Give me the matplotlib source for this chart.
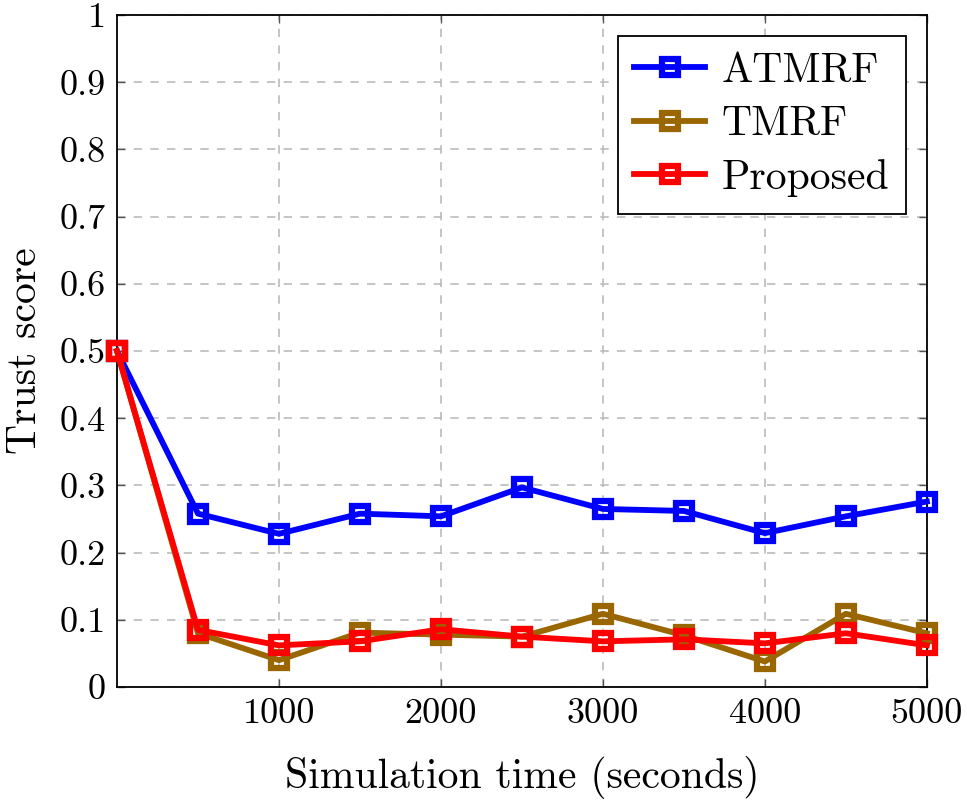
import matplotlib
matplotlib.use("Agg")
import matplotlib.pyplot as plt
from matplotlib.ticker import FuncFormatter

plt.rcParams['font.family'] = 'serif'
plt.rcParams['font.serif'] = ['cmr10', 'DejaVu Serif']
plt.rcParams['axes.formatter.use_mathtext'] = True
plt.rcParams['mathtext.fontset'] = 'cm'

time = [0, 500, 1000, 1500, 2000, 2500, 3000, 3500, 4000, 4500, 5000]
atmrf = [0.5, 0.258, 0.228, 0.258, 0.254, 0.297, 0.265, 0.262, 0.229, 0.254, 0.276]
tmrf = [0.5, 0.080, 0.040, 0.081, 0.078, 0.075, 0.109, 0.077, 0.038, 0.109, 0.080]
proposed = [0.5, 0.085, 0.062, 0.068, 0.086, 0.075, 0.068, 0.071, 0.065, 0.080, 0.062]

series = [("ATMRF", atmrf, "#0000ff"), ("TMRF", tmrf, "#996600"), ("Proposed", proposed, "#ff0000")]

fig = plt.figure(figsize=(9.67, 8.06), dpi=100)
ax = fig.add_axes([0.121, 0.1476, 0.8375, 0.8338])

for name, vals, col in series:
    ax.plot(time, vals, color=col, lw=4.2, marker='s', ms=12, mew=4.5,
            mfc='none', mec=col, label=name, clip_on=False, zorder=3)

ax.set_xlim(0, 5000)
ax.set_ylim(0, 1)
ax.set_xticks([1000, 2000, 3000, 4000, 5000])
ax.set_yticks([i / 10 for i in range(11)])
ax.yaxis.set_major_formatter(FuncFormatter(lambda v, p: "0" if v == 0 else ("1" if v == 1 else f"{v:.1f}")))
ax.xaxis.set_major_formatter(FuncFormatter(lambda v, p: f"{int(v)}"))
ax.tick_params(direction='in', top=True, right=True, length=6, width=1, labelsize=26, pad=8, colors='#555555', labelcolor='black')
ax.grid(True, color='#bbbbbb', ls=(0, (5, 5)), lw=1.2)
for s in ax.spines.values():
    s.set_linewidth(1.3)

ax.set_xlabel("Simulation time (seconds)", fontsize=30, labelpad=19)
ax.set_ylabel("Trust score", fontsize=30, labelpad=11)

leg = ax.legend(loc='upper right', fontsize=30, frameon=True, fancybox=False,
                edgecolor='black', framealpha=1, borderaxespad=0.5,
                handlelength=1.7, handletextpad=0.4, borderpad=0.4, labelspacing=0.38)
leg.get_frame().set_linewidth(1.3)

fig.savefig("out.png", dpi=100)
